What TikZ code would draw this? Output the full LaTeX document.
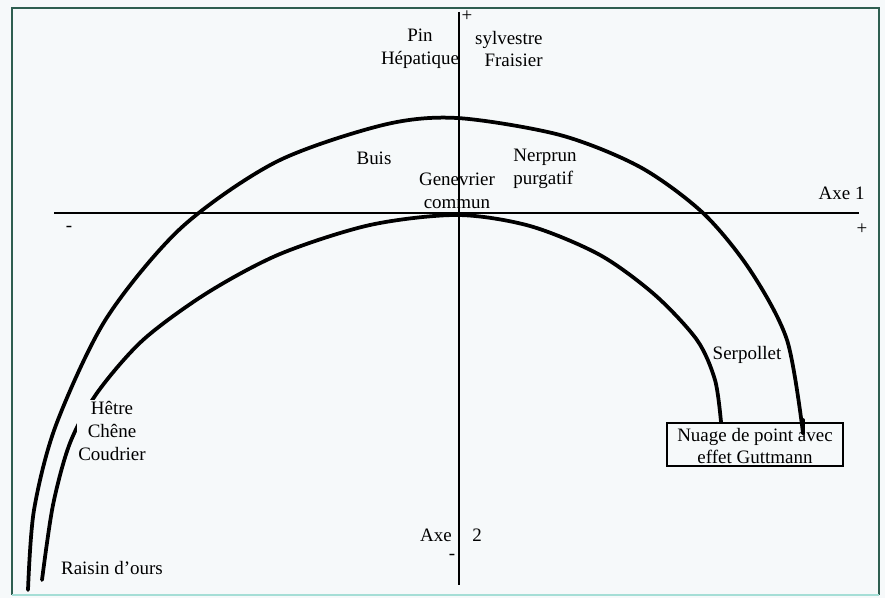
\documentclass[tikz,border=0pt]{standalone}
\usepackage{fontspec}
\setmainfont{Liberation Serif}
\usepackage{xcolor}
\definecolor{framegreen}{RGB}{46, 94, 80}
\definecolor{framecyan}{RGB}{165, 222, 214}
\definecolor{paper}{RGB}{246, 249, 250}
\usetikzlibrary{positioning}

\begin{document}
\begin{tikzpicture}[x=0.03cm, y=-0.03cm,
    lbl/.style={font=\fontsize{16.2}{19.5}\selectfont, inner sep=1pt, align=center},
    axisline/.style={line width=1.6pt},
    bigcurve/.style={line width=3.2pt, line cap=round}]
    % Paper and frame
    \fill[paper] (0,0) rectangle (885,598);
    \useasboundingbox (0,0) rectangle (885,598);
    \draw[framegreen, line width=2pt] (12,595) -- (12,8) -- (879,8) -- (879,595);
    \draw[framecyan, line width=2pt] (12,595) -- (879,595);

    % Axes
    \coordinate (xl) at (54,213);
    \coordinate (xr) at (859,213);
    \coordinate (yt) at (459,12);
    \coordinate (yb) at (459,585);
    \draw[axisline] (xl) -- (xr);
    \draw[axisline] (yt) -- (yb);

    % Outer curve
    \draw[bigcurve] plot[smooth] coordinates {(28,590) (34,510) (56,425) (106,319) (181,228)
        (276,162) (383,125) (457,118) (560,135) (640,167) (703,213) (750,270) (787,340) (803,433)};

    % Inner curve
    \draw[bigcurve] plot[smooth] coordinates {(42,580) (53,505) (70,443) (97,393) (143,340)
        (207,293) (280,254) (370,225) (457,215) (530,226) (600,255) (655,295) (697,340) (715,380) (721,422)};

    % Signs
    \node[lbl] (ptop) at (467,16) {+};
    \node[lbl] (mleft) at (69,229) {-};
    \node[lbl] (pright) at (862,229) {+};
    \node[lbl] (mbot) at (452,557) {-};

    % Axis names
    \node[lbl, anchor=east] (axe1) at (866,193) {Axe 1};
    \node[lbl] (axe2a) at (436,535) {Axe};
    \node[lbl] (axe2b) at (477,535) {2};

    % Species
    \node[lbl] (pin) at (420,49) {Pin\\Hépatique};
    \node[lbl, align=right, anchor=east] (sylv) at (544,49) {sylvestre\\Fraisier};
    \node[lbl] (buis) at (374,158) {Buis};
    \node[lbl, align=left] (nerprun) at (545,169) {Nerprun\\purgatif};
    \node[lbl] (genev) at (457,191) {Genevrier\\commun};
    \node[lbl, fill=paper] (hetre) at (112,431) {Hêtre\\Chêne\\Coudrier};
    \node[lbl] (raisin) at (112,568) {Raisin d’ours};
    \node[lbl] (serp) at (747,355) {Serpollet};

    % Guttmann box
    \draw[line width=1.6pt] (667,423) rectangle (843,466);
    \node[lbl] (nuage) at (755,446) {Nuage de point avec\\effet Guttmann};
    \draw[bigcurve] (803,420) -- (803,433);
\end{tikzpicture}
\end{document}
